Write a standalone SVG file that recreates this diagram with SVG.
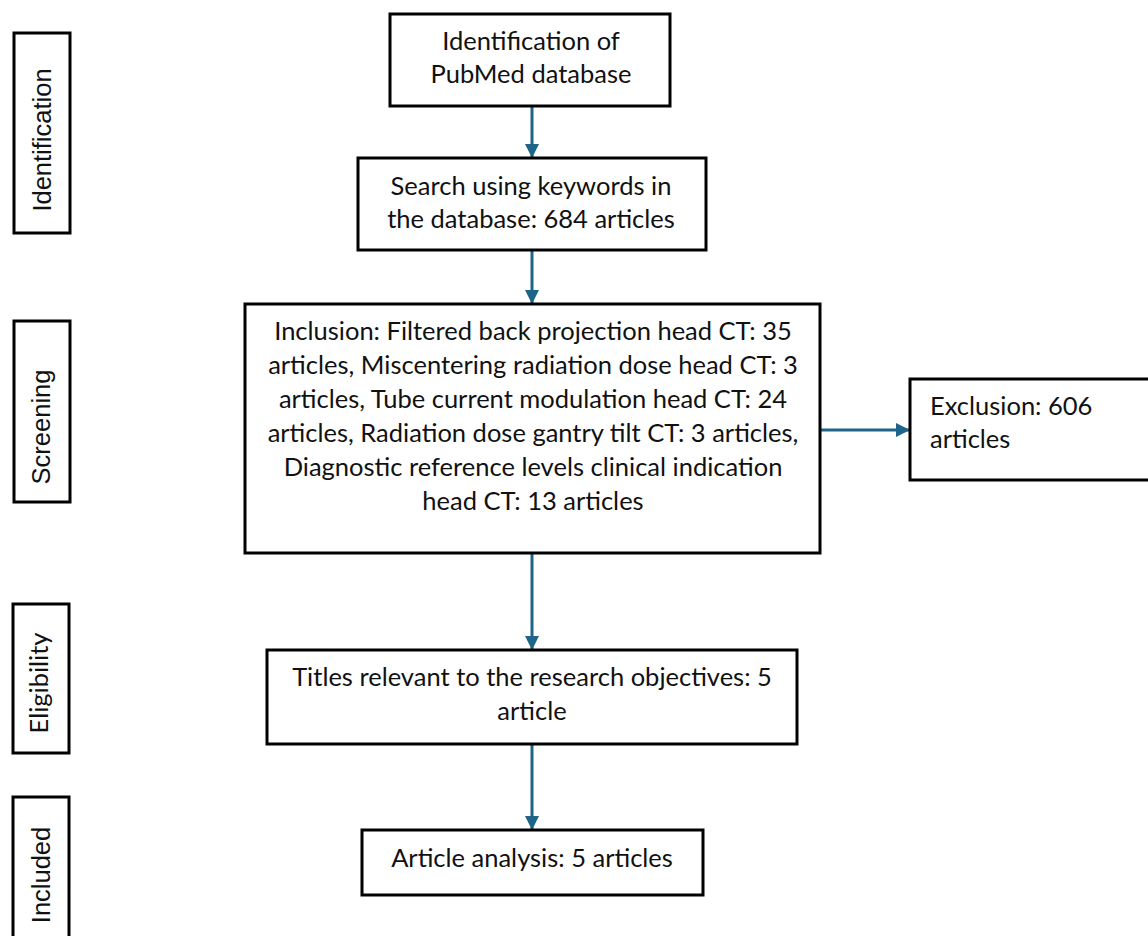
<svg xmlns="http://www.w3.org/2000/svg" width="1148" height="936" viewBox="0 0 1148 936">
<style>
.box{fill:#fff;stroke:#000;stroke-width:3}
.t{font-family:Lato,"Open Sans",sans-serif;font-size:25.5px;fill:#111;text-anchor:middle}
.tl{font-family:Lato,"Open Sans",sans-serif;font-size:25.5px;fill:#111}
.side{font-family:"Liberation Sans",Arial,sans-serif;font-size:25.5px;fill:#111;text-anchor:middle}
.sidec{font-family:Lato,"Open Sans",sans-serif;font-size:25.5px;fill:#111;text-anchor:middle}
.conn{stroke:#1f6489;stroke-width:3;fill:none}
</style>
<defs>
<marker id="ah" markerUnits="userSpaceOnUse" markerWidth="16" markerHeight="16" refX="14" refY="7" orient="auto">
<path d="M0,0 L14,7 L0,14 z" fill="#1f6489"/>
</marker>
</defs>
<rect width="1148" height="936" fill="#fff"/>
<g id="phase-identification">
<rect class="box" x="14" y="33" width="56" height="200"/>
<text class="side" transform="translate(51,140) rotate(-90)">Identification</text>
</g>
<g id="phase-screening">
<rect class="box" x="14" y="321" width="56" height="181"/>
<text class="side" transform="translate(50,427) rotate(-90)">Screening</text>
</g>
<g id="phase-eligibility">
<rect class="box" x="13" y="604" width="56" height="149"/>
<text class="sidec" transform="translate(48,683) rotate(-90)">Eligibility</text>
</g>
<g id="phase-included">
<rect class="box" x="13" y="797" width="56" height="150"/>
<text class="side" transform="translate(50,875) rotate(-90)">Included</text>
</g>
<g id="connectors">
<line class="conn" x1="532" y1="105" x2="532" y2="158" marker-end="url(#ah)"/>
<line class="conn" x1="532" y1="250" x2="532" y2="304" marker-end="url(#ah)"/>
<line class="conn" x1="532" y1="553" x2="532" y2="650" marker-end="url(#ah)"/>
<line class="conn" x1="532" y1="744" x2="532" y2="830" marker-end="url(#ah)"/>
<line class="conn" x1="820" y1="430" x2="910" y2="430" marker-end="url(#ah)"/>
</g>
<g id="node-pubmed">
<rect class="box" x="390" y="14" width="280" height="92"/>
<text class="t" x="531" y="50">Identification of</text>
<text class="t" x="531" y="83">PubMed database</text>
</g>
<g id="node-search">
<rect class="box" x="358" y="158" width="348" height="92"/>
<text class="t" x="531" y="195">Search using keywords in</text>
<text class="t" x="531" y="228">the database: 684 articles</text>
</g>
<g id="node-inclusion">
<rect class="box" x="245" y="304" width="575" height="249"/>
<text class="t" x="533" y="340">Inclusion: Filtered back projection head CT: 35</text>
<text class="t" x="533" y="374">articles, Miscentering radiation dose head CT: 3</text>
<text class="t" x="533" y="408">articles, Tube current modulation head CT: 24</text>
<text class="t" x="533" y="442">articles, Radiation dose gantry tilt CT: 3 articles,</text>
<text class="t" x="533" y="476">Diagnostic reference levels clinical indication</text>
<text class="t" x="533" y="510">head CT: 13 articles</text>
</g>
<g id="node-exclusion">
<rect class="box" x="910" y="379" width="250" height="101"/>
<text class="tl" x="930" y="415">Exclusion: 606</text>
<text class="tl" x="930" y="448">articles</text>
</g>
<g id="node-titles">
<rect class="box" x="267" y="650" width="530" height="94"/>
<text class="t" x="532" y="686">Titles relevant to the research objectives: 5</text>
<text class="t" x="532" y="720">article</text>
</g>
<g id="node-analysis">
<rect class="box" x="362" y="830" width="341" height="65"/>
<text class="t" x="532" y="867">Article analysis: 5 articles</text>
</g>
</svg>
